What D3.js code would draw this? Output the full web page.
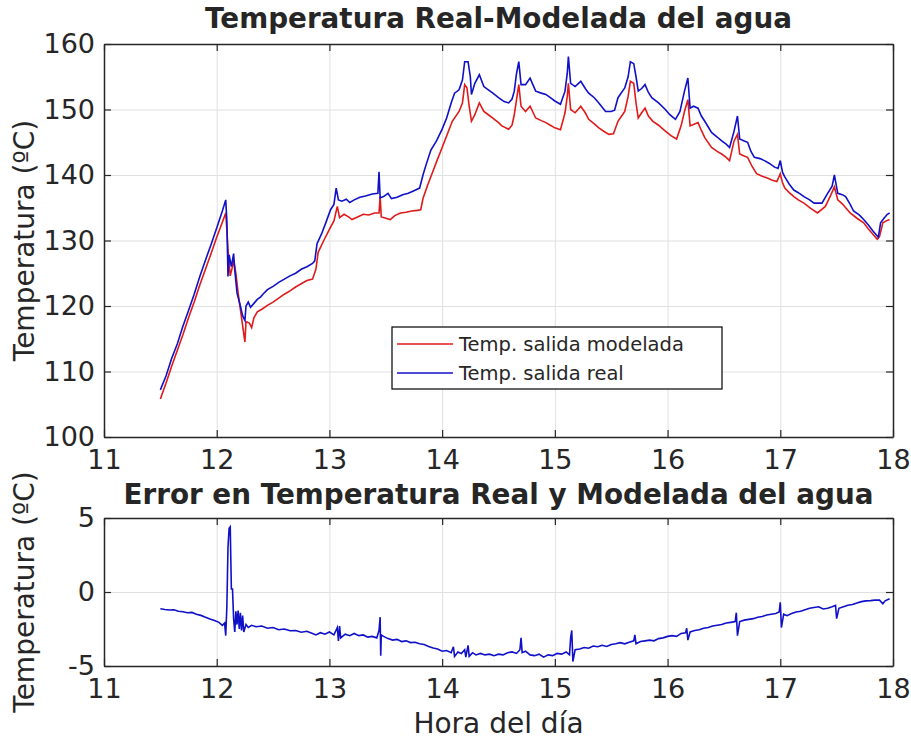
<!DOCTYPE html>
<html><head><meta charset="utf-8">
<script src="https://cdn.jsdelivr.net/npm/d3@7"></script>
<style>
html,body{margin:0;padding:0;background:#fff;}
svg{display:block;}
text{font-family:"DejaVu Sans",sans-serif;fill:#262626;}
</style></head>
<body><svg id="c" width="911" height="742"></svg>
<script>
// ---------- DATA ----------
const xTicks = [11,12,13,14,15,16,17,18];
const yTicksTop = [100,110,120,130,140,150,160];
const yTicksBottom = [-5,0,5];
const seriesNames = ["Temp. salida modelada","Temp. salida real"];

const horasReal = [11.50,11.55,11.60,11.65,11.70,11.75,11.80,11.85,11.90,11.95,12.00,12.05,12.08,12.09,12.10,12.11,12.13,12.15,12.16,12.18,12.21,12.23,12.25,12.26,12.28,12.30,12.33,12.36,12.39,12.41,12.45,12.50,12.55,12.60,12.65,12.70,12.75,12.80,12.85,12.87,12.89,12.93,12.97,13.01,13.04,13.06,13.08,13.11,13.15,13.18,13.22,13.27,13.32,13.38,13.43,13.44,13.45,13.48,13.52,13.55,13.60,13.65,13.70,13.75,13.80,13.83,13.86,13.90,13.95,14.00,14.04,14.08,14.11,14.15,14.18,14.20,14.23,14.25,14.26,14.29,14.33,14.37,14.41,14.45,14.50,14.55,14.59,14.62,14.64,14.66,14.68,14.70,14.74,14.78,14.83,14.88,14.92,14.96,15.00,15.05,15.09,15.11,15.12,15.14,15.18,15.23,15.27,15.30,15.35,15.39,15.45,15.50,15.53,15.56,15.60,15.62,15.65,15.67,15.70,15.72,15.74,15.77,15.80,15.83,15.86,15.92,15.98,16.02,16.07,16.11,16.15,16.18,16.20,16.23,16.27,16.30,16.33,16.39,16.44,16.48,16.52,16.55,16.59,16.62,16.64,16.68,16.71,16.74,16.77,16.82,16.86,16.90,16.95,16.98,17.00,17.02,17.04,17.08,17.12,17.16,17.21,17.26,17.30,17.37,17.42,17.46,17.48,17.51,17.55,17.58,17.62,17.65,17.70,17.74,17.78,17.82,17.86,17.87,17.89,17.92,17.95,17.97];
const tempReal = [107.2,109.3,112.0,114.2,116.9,119.3,121.8,124.5,127.0,129.4,131.9,134.5,136.2,133.0,124.5,127.8,126.0,128.0,125.5,122.0,120.0,118.5,117.8,120.0,120.6,119.8,120.4,121.0,121.4,121.8,122.5,123.0,123.6,124.1,124.6,125.0,125.6,126.0,126.5,126.9,129.5,131.0,132.8,134.7,135.5,138.0,136.2,136.0,136.3,135.8,136.2,136.6,136.8,137.1,137.2,140.5,136.5,136.7,137.2,136.4,136.6,137.0,137.2,137.6,138.0,140.0,141.7,143.8,145.2,147.0,148.7,151.0,152.5,153.0,154.5,157.3,157.3,155.0,152.3,154.0,155.3,153.5,153.0,152.5,151.8,151.2,151.0,151.6,152.8,155.5,157.3,153.8,153.8,154.8,152.8,152.5,152.3,151.8,151.3,150.8,152.8,155.5,158.1,154.0,153.5,154.3,153.2,152.5,151.8,151.0,149.7,149.7,149.9,151.8,152.8,153.3,155.0,157.3,157.0,155.0,152.8,153.2,153.8,152.6,151.8,151.0,150.0,149.2,148.5,149.7,152.8,154.8,150.2,150.5,150.2,149.0,148.2,146.5,145.8,145.2,144.7,144.2,146.7,149.0,145.5,145.2,145.0,143.6,142.7,142.5,142.2,141.8,141.2,141.0,142.2,140.4,139.7,138.6,137.7,137.3,136.7,136.2,135.7,135.7,137.2,138.3,140.0,137.2,137.0,136.7,135.5,134.5,133.9,133.2,132.4,131.5,130.7,130.5,132.7,133.4,134.0,134.2];

const horasModelada = [11.50,11.55,11.60,11.65,11.70,11.75,11.80,11.85,11.90,11.95,12.00,12.05,12.08,12.09,12.10,12.12,12.14,12.15,12.17,12.19,12.21,12.23,12.25,12.26,12.29,12.31,12.33,12.36,12.40,12.45,12.50,12.55,12.60,12.65,12.70,12.75,12.80,12.85,12.88,12.90,12.95,13.00,13.04,13.07,13.09,13.13,13.17,13.20,13.25,13.30,13.35,13.40,13.44,13.45,13.46,13.50,13.54,13.58,13.63,13.68,13.73,13.78,13.81,13.83,13.87,13.91,13.95,14.00,14.05,14.09,14.15,14.18,14.20,14.22,14.24,14.26,14.29,14.33,14.37,14.41,14.45,14.50,14.53,14.59,14.62,14.64,14.66,14.68,14.70,14.74,14.78,14.83,14.88,14.92,14.96,15.00,15.05,15.09,15.11,15.12,15.14,15.18,15.23,15.27,15.30,15.35,15.39,15.44,15.48,15.52,15.56,15.60,15.62,15.65,15.67,15.70,15.72,15.74,15.77,15.80,15.83,15.87,15.92,15.98,16.03,16.08,16.12,16.15,16.18,16.20,16.24,16.27,16.30,16.33,16.39,16.44,16.48,16.52,16.55,16.59,16.62,16.64,16.68,16.71,16.75,16.79,16.84,16.89,16.93,16.97,17.00,17.02,17.04,17.08,17.12,17.16,17.21,17.27,17.33,17.40,17.45,17.48,17.51,17.55,17.58,17.62,17.68,17.74,17.78,17.82,17.86,17.88,17.91,17.94,17.97];
const tempModelada = [105.8,108.2,110.8,113.2,115.6,118.2,120.6,123.2,125.6,128.0,130.5,132.8,134.2,131.7,128.6,124.6,126.0,127.0,125.0,122.0,119.5,117.0,114.5,117.6,117.4,116.7,118.2,119.1,119.5,120.1,120.6,121.2,121.8,122.3,122.9,123.4,123.9,124.1,125.6,128.2,130.0,131.7,133.0,135.2,133.5,134.0,133.6,133.2,133.6,134.0,133.9,134.2,134.2,136.7,133.6,133.4,133.2,133.8,134.2,134.3,134.5,134.6,134.7,136.4,138.4,140.2,142.0,144.2,146.4,148.2,149.7,151.0,153.8,153.3,150.5,148.2,149.2,151.0,149.7,149.2,148.7,148.0,147.5,147.0,147.6,149.2,151.5,153.8,150.5,149.7,150.5,148.7,148.3,148.0,147.6,147.2,146.9,149.5,152.0,154.0,150.0,149.5,150.5,149.5,148.5,147.8,147.2,146.6,146.2,146.3,148.2,149.2,149.7,152.0,154.3,154.0,151.0,148.7,149.5,150.2,149.0,148.2,147.6,146.7,146.0,145.5,147.5,149.7,151.5,147.5,147.8,148.0,146.8,145.7,144.2,143.6,143.2,142.7,142.2,145.2,146.2,143.2,142.9,142.7,141.3,140.2,139.8,139.5,139.2,139.0,140.2,138.8,138.0,137.3,136.7,136.2,135.7,134.9,134.2,135.2,137.0,138.2,136.2,135.6,135.0,134.2,133.4,132.7,131.8,131.0,130.2,130.6,132.7,133.0,133.2];

const horasError = [11.50,11.54,11.58,11.62,11.66,11.70,11.74,11.78,11.82,11.86,11.90,11.94,11.98,12.02,12.05,12.07,12.08,12.09,12.10,12.11,12.12,12.13,12.14,12.15,12.16,12.17,12.18,12.19,12.20,12.21,12.22,12.23,12.24,12.26,12.28,12.31,12.35,12.40,12.45,12.50,12.55,12.60,12.65,12.70,12.75,12.80,12.85,12.88,12.92,12.96,13.00,13.04,13.07,13.08,13.09,13.10,13.14,13.18,13.22,13.26,13.30,13.34,13.38,13.42,13.44,13.45,13.455,13.46,13.48,13.52,13.56,13.60,13.64,13.68,13.72,13.76,13.80,13.84,13.88,13.92,13.96,14.00,14.04,14.08,14.10,14.11,14.14,14.17,14.20,14.21,14.23,14.24,14.27,14.30,14.34,14.38,14.42,14.46,14.50,14.54,14.58,14.62,14.66,14.69,14.70,14.71,14.74,14.78,14.82,14.86,14.90,14.94,14.98,15.02,15.06,15.10,15.13,15.14,15.15,15.16,15.18,15.22,15.26,15.30,15.34,15.38,15.42,15.46,15.50,15.54,15.58,15.62,15.66,15.70,15.71,15.72,15.76,15.80,15.84,15.88,15.92,15.96,16.00,16.04,16.08,16.12,16.16,16.17,16.18,16.20,16.24,16.28,16.32,16.36,16.40,16.44,16.48,16.52,16.56,16.60,16.61,16.62,16.64,16.68,16.72,16.76,16.80,16.84,16.88,16.92,16.96,16.99,17.00,17.01,17.03,17.06,17.10,17.14,17.18,17.22,17.26,17.30,17.34,17.38,17.42,17.46,17.49,17.50,17.52,17.56,17.60,17.64,17.68,17.72,17.76,17.80,17.84,17.88,17.91,17.93,17.97];
const errorTemp = [-1.13,-1.18,-1.22,-1.20,-1.30,-1.33,-1.40,-1.38,-1.50,-1.58,-1.70,-1.82,-1.92,-2.05,-2.25,-2.10,-2.95,-1.0,3.0,4.3,4.4,0.2,0.2,-1.8,-2.7,-1.3,-2.2,-1.25,-2.5,-1.4,-2.6,-1.6,-2.7,-2.2,-2.4,-2.25,-2.35,-2.3,-2.45,-2.4,-2.55,-2.5,-2.62,-2.6,-2.72,-2.65,-2.8,-2.9,-2.75,-2.85,-2.7,-2.9,-2.4,-3.3,-2.3,-3.1,-2.85,-2.95,-2.8,-2.95,-2.9,-3.05,-3.0,-3.1,-2.6,-1.7,-4.3,-2.9,-3.0,-3.15,-3.25,-3.2,-3.35,-3.3,-3.42,-3.4,-3.5,-3.55,-3.68,-3.78,-3.85,-4.0,-3.95,-4.1,-3.7,-4.35,-4.05,-4.15,-3.9,-4.4,-3.6,-4.35,-4.1,-4.25,-4.15,-4.25,-4.2,-4.3,-4.2,-4.25,-4.1,-4.05,-4.15,-3.9,-3.1,-4.1,-4.0,-4.25,-4.3,-4.2,-4.4,-4.25,-4.3,-4.15,-4.2,-4.05,-4.25,-3.1,-2.6,-4.7,-3.9,-3.85,-3.75,-3.8,-3.65,-3.7,-3.6,-3.68,-3.55,-3.5,-3.42,-3.5,-3.4,-3.3,-2.9,-3.5,-3.35,-3.3,-3.25,-3.3,-3.15,-3.1,-3.0,-2.95,-3.0,-2.8,-2.75,-2.45,-3.25,-2.7,-2.6,-2.55,-2.45,-2.4,-2.3,-2.25,-2.2,-2.1,-2.05,-2.0,-1.4,-2.95,-2.0,-1.9,-1.85,-1.8,-1.7,-1.65,-1.55,-1.5,-1.45,-1.35,-0.7,-2.4,-1.5,-1.6,-1.45,-1.35,-1.3,-1.2,-1.1,-1.05,-1.0,-1.15,-1.1,-1.0,-0.9,-1.8,-1.1,-1.0,-0.9,-0.85,-0.75,-0.65,-0.6,-0.58,-0.55,-0.55,-0.8,-0.6,-0.45];

// ---------- STYLE / LAYOUT ----------
const colModel = "#e01a1a", colReal = "#1010c8";
const axisCol = "#262626", gridCol = "#e0e0e0";
const tickFont = 27, labelFont = 28, titleFont = 27.8, legendFont = 19.5;
const panelTop = {x0:104, x1:893, y0:44, y1:437};
const panelBot = {x0:104, x1:893, y0:518, y1:666};

const svg = d3.select("#c");

function panel(p, yDomain, yTicks, title, titleY, ylabel) {
  const x = d3.scaleLinear().domain([11,18]).range([p.x0,p.x1]);
  const y = d3.scaleLinear().domain(yDomain).range([p.y1,p.y0]);
  const g = svg.append("g");
  const w = p.x1-p.x0, h = p.y1-p.y0;
  g.append("g").attr("transform",`translate(0,${p.y1})`)
    .call(d3.axisBottom(x).tickValues(xTicks).tickSize(-h).tickFormat(""))
    .call(s=>{s.select(".domain").remove(); s.selectAll("line").attr("stroke",gridCol).attr("stroke-width",1);});
  g.append("g").attr("transform",`translate(${p.x0},0)`)
    .call(d3.axisLeft(y).tickValues(yTicks).tickSize(-w).tickFormat(""))
    .call(s=>{s.select(".domain").remove(); s.selectAll("line").attr("stroke",gridCol).attr("stroke-width",1);});
  const plot = g.append("g");
  const tl = 7;
  const ax = [
    g.append("g").attr("transform",`translate(0,${p.y1})`).call(d3.axisBottom(x).tickValues(xTicks).tickSizeInner(-tl).tickSizeOuter(0).tickPadding(13).tickFormat(d3.format("d"))),
    g.append("g").attr("transform",`translate(0,${p.y0})`).call(d3.axisTop(x).tickValues(xTicks).tickSizeInner(-tl).tickSizeOuter(0).tickFormat("")),
    g.append("g").attr("transform",`translate(${p.x0},0)`).call(d3.axisLeft(y).tickValues(yTicks).tickSizeInner(-tl).tickSizeOuter(0).tickPadding(9).tickFormat(d=>String(d))),
    g.append("g").attr("transform",`translate(${p.x1},0)`).call(d3.axisRight(y).tickValues(yTicks).tickSizeInner(-tl).tickSizeOuter(0).tickFormat(""))
  ];
  ax.forEach(a=>{
    a.select(".domain").attr("stroke",axisCol).attr("stroke-width",1.5);
    a.selectAll(".tick line").attr("stroke",axisCol).attr("stroke-width",1.2);
    a.selectAll("text").attr("font-size",tickFont).attr("fill",axisCol).attr("font-family","DejaVu Sans");
  });
  g.append("text").attr("x",(p.x0+p.x1)/2).attr("y",titleY).attr("text-anchor","middle")
    .attr("font-weight","bold").attr("font-size",titleFont).attr("fill","#000").text(title);
  g.append("text").attr("transform",`translate(34,${(p.y0+p.y1)/2}) rotate(-90)`).attr("text-anchor","middle")
    .attr("font-size",labelFont).text(ylabel);
  return {x,y,plot};
}

const A = panel(panelTop,[100,160],yTicksTop,"Temperatura Real-Modelada del agua",28,"Temperatura (ºC)");
const B = panel(panelBot,[-5,5],yTicksBottom,"Error en Temperatura Real y Modelada del agua",504,"Temperatura (ºC)");

const lineA = d3.line().x(d=>A.x(d[0])).y(d=>A.y(d[1]));
A.plot.append("path").datum(d3.zip(horasModelada,tempModelada)).attr("d",lineA)
  .attr("fill","none").attr("stroke",colModel).attr("stroke-width",1.6);
A.plot.append("path").datum(d3.zip(horasReal,tempReal)).attr("d",lineA)
  .attr("fill","none").attr("stroke",colReal).attr("stroke-width",1.6);

const lineB = d3.line().x(d=>B.x(d[0])).y(d=>B.y(d[1]));
B.plot.append("path").datum(d3.zip(horasError,errorTemp)).attr("d",lineB)
  .attr("fill","none").attr("stroke",colReal).attr("stroke-width",1.6);

svg.append("text").attr("x",(panelBot.x0+panelBot.x1)/2).attr("y",733).attr("text-anchor","middle")
  .attr("font-size",labelFont).text("Hora del día");

const lg = svg.append("g");
lg.append("rect").attr("x",392).attr("y",327).attr("width",330).attr("height",62)
  .attr("fill","#fff").attr("stroke","#000").attr("stroke-width",1.2);
[colModel,colReal].forEach((c,i)=>{
  const yy = 344 + i*29;
  lg.append("line").attr("x1",397).attr("x2",453).attr("y1",yy).attr("y2",yy).attr("stroke",c).attr("stroke-width",1.3);
  lg.append("text").attr("x",459).attr("y",yy).attr("dy","0.36em").attr("font-size",legendFont).attr("fill","#000").text(seriesNames[i]);
});
</script></body></html>
